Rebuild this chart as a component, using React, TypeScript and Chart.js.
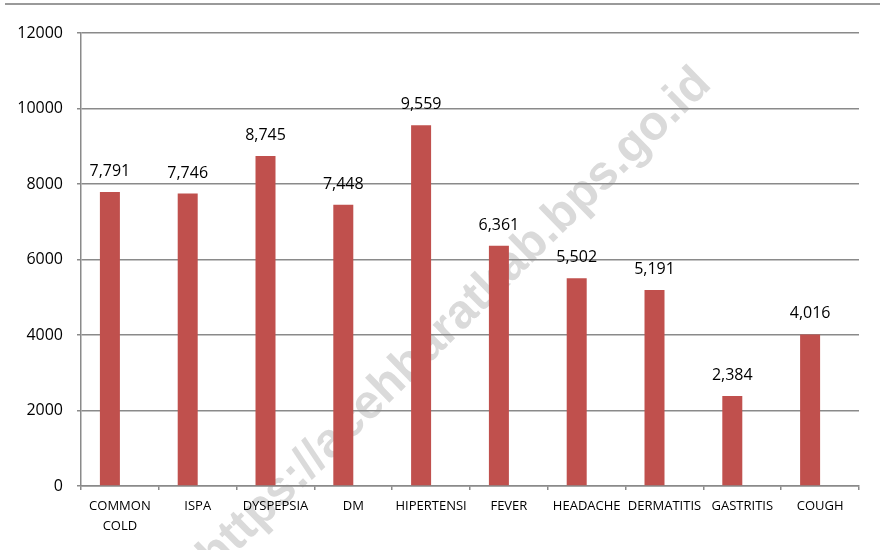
import React, { useEffect, useRef } from "react";
import { Chart, registerables } from "chart.js";

Chart.register(...registerables);

const categories: (string | string[])[] = [
  ["COMMON", "COLD"],
  "ISPA",
  "DYSPEPSIA",
  "DM",
  "HIPERTENSI",
  "FEVER",
  "HEADACHE",
  "DERMATITIS",
  "GASTRITIS",
  "COUGH",
];
const cases: number[] = [7791, 7746, 8745, 7448, 9559, 6361, 5502, 5191, 2384, 4016];
const emptySeries: (number | null)[] = [null, null, null, null, null, null, null, null, null, null];
const yMin = 0;
const yMax = 12000;
const yStep = 2000;
const watermarkText = "https://acehbaratkab.bps.go.id";

const FONT = "'Open Sans', 'Noto Sans', sans-serif";
const GRID = "#8a8a8a";

const framePlugin = {
  id: "frameLine",
  beforeDraw(chart: any) {
    const ctx = chart.ctx;
    ctx.save();
    ctx.strokeStyle = "#9a9a9a";
    ctx.lineWidth = 2;
    ctx.beginPath();
    ctx.moveTo(5, 4);
    ctx.lineTo(880, 4);
    ctx.stroke();
    // watermark behind everything
    ctx.translate(455, 320);
    ctx.rotate((-44.4 * Math.PI) / 180);
    ctx.font = "bold 48px 'Liberation Sans', Arial, sans-serif";
    ctx.fillStyle = "#dadada";
    ctx.textAlign = "center";
    ctx.textBaseline = "middle";
    ctx.fillText(watermarkText, 0, 0);
    ctx.restore();
  },
};

const labelPlugin = {
  id: "valueLabels",
  afterDatasetsDraw(chart: any) {
    const ctx = chart.ctx;
    const meta = chart.getDatasetMeta(0);
    ctx.save();
    ctx.font = `16px ${FONT}`;
    ctx.fillStyle = "#000";
    ctx.textAlign = "center";
    ctx.textBaseline = "alphabetic";
    meta.data.forEach((bar: any, i: number) => {
      const v = cases[i];
      ctx.fillText(v.toLocaleString("en-US"), bar.x, bar.y - 16);
    });
    ctx.restore();
  },
};

export default function App() {
  const ref = useRef<HTMLCanvasElement | null>(null);

  useEffect(() => {
    if (!ref.current) return;
    const chart = new Chart(ref.current, {
      type: "bar",
      data: {
        labels: categories,
        datasets: [
          {
            data: cases,
            backgroundColor: "#C0504D",
            borderWidth: 0,
            categoryPercentage: 0.514,
            barPercentage: 1,
          },
          {
            data: emptySeries as any,
            backgroundColor: "#4F81BD",
            borderWidth: 0,
            categoryPercentage: 0.514,
            barPercentage: 1,
          },
        ],
      },
      options: {
        animation: false,
        responsive: true,
        maintainAspectRatio: false,
        layout: { padding: { top: 33, right: 23, left: 0, bottom: 0 } },
        plugins: {
          legend: { display: false },
          tooltip: { enabled: false },
          title: { display: false },
        },
        scales: {
          x: {
            afterFit: (scale: any) => {
              scale.height = 64;
            },
            grid: {
              display: true,
              drawOnChartArea: false,
              drawTicks: true,
              tickLength: 4,
              color: GRID,
              lineWidth: 1.5,
              offset: true,
            },
            border: { display: true, color: GRID, width: 1.5 },
            ticks: {
              color: "#000",
              font: { family: FONT, size: 13, lineHeight: 1.5 },
              padding: 7,
              maxRotation: 0,
              autoSkip: false,
            },
          },
          y: {
            min: yMin,
            max: yMax,
            afterFit: (scale: any) => {
              scale.width = 81;
            },
            grid: {
              color: GRID,
              lineWidth: 1.5,
              drawTicks: true,
              tickLength: 4,
            },
            border: { display: true, color: GRID, width: 1.5 },
            ticks: {
              stepSize: yStep,
              color: "#000",
              font: { family: FONT, size: 16 },
              padding: 14,
              callback: (v: any) => String(v),
            },
          },
        },
      },
      plugins: [framePlugin, labelPlugin],
    });
    return () => chart.destroy();
  }, []);

  return (
    <div style={{ position: "fixed", left: 0, top: 0, width: 882, height: 550, background: "#fff" }}>
      <canvas ref={ref} />
    </div>
  );
}
